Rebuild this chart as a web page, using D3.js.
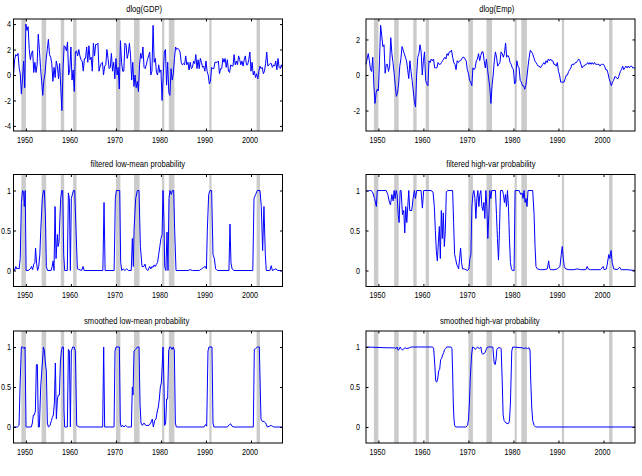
<!DOCTYPE html>
<html>
<head>
<meta charset="utf-8">
<script src="https://cdnjs.cloudflare.com/ajax/libs/d3/7.8.5/d3.min.js"></script>
<style>
body { margin: 0; background: #fff; }
svg text { font-family: "Liberation Sans", Arial, Helvetica, sans-serif; fill: #000; }
</style>
</head>
<body>
<div id="chart"></div>
<script>

// quarterly data start at 1947Q2, plotted at start of quarter
let firstQuarter = 1947.25;

// dlog(GDP) x 100, 1947Q2 .. 2007Q1
let gdpGrowth = [
    0.0, 1.2, 1.6,
    1.5, 1.7, 0.6, 0.1,
    -1.5, -0.3, 1.1, -1.0,
    4.0, 3.5, 3.8, 2.0,
    1.2, 1.7, 1.9, 0.2,
    1.0, 0.2, 0.8, 3.2,
    2.0, 0.6, -0.5, -1.6,
    -0.4, 0.1, 1.2, 2.0,
    2.8, 1.6, 1.4, 0.9,
    -0.5, 0.6, -0.2, 1.1,
    0.7, -0.3, 0.9, -1.0,
    -2.8, 0.5, 2.3, 2.2,
    1.9, 2.6, 0.0, 0.4,
    2.2, -0.4, 0.4, -1.3,
    1.8, 1.9, 1.5, 2.0,
    1.5, 1.2, 1.1, 0.3,
    1.3, 1.3, 2.2, 1.0,
    2.3, 1.2, 1.4, 0.3,
    2.5, 1.5, 2.4, 2.4,
    2.5, 0.3, 0.7, 0.9,
    1.0, 0.0, 0.7, 0.8,
    2.0, 1.3, 0.5, 0.6,
    1.7, 0.3, 1.0, -0.3,
    1.3, 0.0, 0.6, -1.1,
    2.7, 1.0, 0.3, 0.3,
    2.5, 2.4, 1.3, 1.7,
    2.5, 1.5, -0.4, 1.0,
    -0.9, 0.0, -1.0, -0.5,
    -1.3, 0.8, 1.7, 1.3,
    2.2, 0.6, 0.5, 0.8,
    1.2, 1.5, 1.8, 0.0,
    0.3, 3.9, 1.0, 1.3,
    0.2, 0.0, 0.8, 0.2,
    0.4, -2.0, -0.1, 1.8,
    2.0, -0.8, 1.0, -1.4,
    -1.6, 0.5, -0.4, 0.1,
    1.3, 2.2, 2.0, 2.1,
    2.0, 1.8, 1.0, 0.8,
    0.9, 0.8, 1.5, 0.8,
    1.0, 0.4, 1.0, 0.5,
    0.6, 1.1, 0.9, 1.6,
    0.5, 1.2, 0.5, 1.3,
    1.0, 0.6, 0.7, 0.3,
    1.1, 0.3, 0.0, -0.7,
    -0.5, 0.6, 0.5, 0.5,
    1.0, 1.0, 1.0, 1.1,
    0.1, 0.5, 0.5, 1.3,
    1.0, 1.3, 0.6, 1.2,
    0.3, 0.2, 0.8, 0.7,
    0.7, 1.6, 0.8, 1.1,
    0.8, 1.5, 1.2, 0.8,
    1.1, 0.7, 1.2, 1.5,
    0.8, 0.8, 1.2, 1.8,
    0.3, 1.0, 0.0, 0.3,
    -0.2, 0.1, -0.3, 0.3,
    0.7, 0.5, 0.6, 0.1,
    0.3, 0.9, 1.8, 0.7,
    0.8, 0.9, 0.9, 0.6,
    0.8, 0.7, 1.1, 0.4,
    1.3, 0.6, 0.5, 0.8,
    0.5
];

// dlog(Emp) x 100, same quarters
let empGrowth = [
    0.6, 0.9, 1.2,
    0.8, 0.3, 0.2, 1.0,
    -0.6, -1.6, -1.0, -0.8,
    -0.9, 0.8, 2.8, 2.2,
    1.6, 1.7, 0.1, 0.6,
    0.6, 0.2, 0.5, 2.1,
    1.2, 0.7, 0.1, -0.6,
    -1.2, -1.0, -0.5, 0.5,
    0.9, 1.6, 1.4, 1.2,
    1.0, 0.8, 0.3, -0.2,
    0.8, 0.2, -0.3, -0.9,
    -1.5, -1.8, 0.0, 1.0,
    1.2, 1.7, 1.3, 0.0,
    0.8, 1.3, -0.3, -0.5,
    -0.6, 0.8, 0.7, 0.9,
    0.8, 0.9, 0.4, 0.4,
    0.4, 0.7, 0.6, 0.6,
    0.7, 0.8, 0.9, 1.0,
    0.9, 1.2, 1.1, 1.3,
    1.3, 1.4, 1.0, 0.7,
    0.6, 0.3, 0.8, 0.7,
    0.8, 0.8, 0.9, 1.0,
    1.0, 0.9, 0.8, 0.3,
    0.1, -0.3, -0.4, -0.6,
    0.4, 0.3, 0.4, 0.8,
    0.9, 1.2, 0.8, 1.1,
    1.3, 1.3, 0.8, 0.4,
    0.9, 0.3, -0.2, -0.7,
    -1.6, -0.6, 0.0, 0.8,
    1.3, 1.0, 0.5, 0.6,
    0.7, 1.3, 1.2, 1.0,
    1.2, 1.8, 1.0, 1.1,
    1.0, 0.7, 0.6, 0.4,
    0.3, -0.5, -0.4, 0.8,
    0.5, 0.4, -0.3, -0.4,
    -0.6, -0.6, -0.8, -0.6,
    -0.1, 0.5, 1.0, 1.4,
    1.3, 1.2, 1.0, 0.8,
    0.7, 0.6, 0.5, 0.5,
    0.4, 0.5, 0.6, 0.7,
    0.6, 0.8, 0.7, 0.9,
    0.8, 0.9, 0.8, 0.8,
    0.6, 0.6, 0.5, 0.7,
    0.2, 0.0, -0.4, -0.4,
    -0.4, -0.4, -0.2, 0.0,
    0.0, 0.2, 0.3, 0.4,
    0.6, 0.6, 0.6, 0.7,
    0.7, 0.8, 0.9, 0.8,
    0.6, 0.4, 0.5, 0.5,
    0.6, 0.6, 0.7, 0.6,
    0.7, 0.6, 0.7, 0.6,
    0.7, 0.6, 0.6, 0.6,
    0.6, 0.5, 0.6, 0.6,
    0.6, 0.5, 0.3, 0.3,
    0.1, -0.2, -0.4, -0.6,
    -0.4, -0.3, -0.1, -0.1,
    -0.2, -0.2, 0.0, 0.2,
    0.3, 0.5, 0.3, 0.4,
    0.5, 0.4, 0.5, 0.4,
    0.5, 0.5, 0.4, 0.4,
    0.4
];

// regime probabilities, [date, probability]
let filteredLowMean = [
    [1947.25, 0.03], [1947.5, 0.0], [1947.75, 0.05], [1948.0, 0.02], [1948.25, 0.03], [1948.5, 0.02],
    [1948.75, 0.15], [1949.0, 0.85], [1949.25, 1.0], [1949.5, 0.98], [1949.65, 0.8], [1949.85, 1.0],
    [1950.05, 0.0], [1950.5, 0.0], [1951.0, 0.02], [1951.25, 0.05], [1951.5, 0.01], [1951.75, 0.08],
    [1952.0, 0.1], [1952.15, 0.28], [1952.4, 0.08], [1952.6, 0.0], [1952.85, 0.05], [1953.1, 0.2],
    [1953.3, 0.5], [1953.65, 0.9], [1953.9, 1.0], [1954.1, 1.0], [1954.33, 0.7], [1954.55, 0.05],
    [1954.8, 0.0], [1955.6, 0.0], [1955.85, 0.05], [1956.05, 0.12], [1956.25, 0.0], [1956.48, 0.8],
    [1956.7, 0.15], [1957.0, 0.45], [1957.15, 0.3], [1957.35, 0.35], [1957.73, 0.9], [1957.96, 1.0],
    [1958.18, 1.0], [1958.4, 0.2], [1958.62, 0.0], [1959.2, 0.0], [1959.44, 0.97], [1959.66, 0.9],
    [1959.88, 0.0], [1960.1, 0.9], [1960.55, 1.0], [1960.84, 1.0], [1961.14, 0.5], [1961.44, 0.02],
    [1962.4, 0.0], [1962.7, 0.05], [1962.95, 0.0], [1967.1, 0.0], [1967.36, 0.85], [1967.6, 0.0],
    [1969.6, 0.0], [1969.87, 0.9], [1970.1, 1.0], [1970.84, 1.0], [1971.06, 0.1], [1971.3, 0.0],
    [1971.6, 0.02], [1972.0, 0.0], [1972.4, 0.02], [1972.8, 0.0], [1973.4, 0.0], [1973.65, 0.4],
    [1973.87, 0.05], [1974.02, 0.5], [1974.39, 0.9], [1974.76, 1.0], [1975.13, 1.0], [1975.43, 0.3],
    [1975.8, 0.05], [1976.2, 0.05], [1976.46, 0.08], [1976.7, 0.02], [1977.1, 0.0], [1977.5, 0.05],
    [1977.75, 0.02], [1978.0, 0.05], [1978.25, 0.04], [1978.5, 0.07], [1978.75, 0.05], [1979.0, 0.08],
    [1979.25, 0.1], [1979.5, 0.2], [1979.75, 0.3], [1980.0, 0.4], [1980.25, 0.45], [1980.46, 1.0],
    [1980.68, 0.6], [1980.83, 0.05], [1981.1, 0.0], [1981.35, 0.48], [1981.57, 0.0], [1981.79, 0.9],
    [1982.01, 1.0], [1982.3, 0.95], [1982.55, 1.0], [1982.83, 1.0], [1983.05, 0.5], [1983.35, 0.0],
    [1986.0, 0.0], [1986.5, 0.01], [1987.0, 0.0], [1988.5, 0.0], [1989.0, 0.02], [1989.5, 0.04],
    [1989.9, 0.05], [1990.1, 0.02], [1990.3, 0.5], [1990.6, 0.95], [1990.9, 1.0], [1991.26, 1.0],
    [1991.56, 0.2], [1991.86, 0.15], [1992.15, 0.02], [1992.5, 0.0], [1995.1, 0.0], [1995.34, 0.58],
    [1995.55, 0.1], [1995.8, 0.02], [1996.2, 0.0], [2000.4, 0.0], [2000.67, 0.9], [2001.03, 0.95],
    [2001.4, 1.0], [2002.0, 1.0], [2002.29, 0.8], [2002.59, 0.25], [2002.88, 0.8], [2003.18, 0.2],
    [2003.4, 0.0], [2004.2, 0.0], [2004.5, 0.06], [2004.75, 0.0], [2005.5, 0.02], [2006.0, 0.0],
    [2007.0, 0.0]
];

let filteredHighVar = [
    [1947.25, 1.0], [1947.67, 0.99], [1948.04, 1.0], [1948.41, 1.0], [1948.78, 0.97], [1949.15, 0.9],
    [1949.55, 0.8], [1949.75, 1.0], [1950.62, 1.0], [1951.73, 1.0], [1952.1, 0.95], [1952.47, 0.85],
    [1952.69, 0.82], [1952.99, 0.95], [1953.28, 0.87], [1953.5, 1.0], [1953.72, 0.9], [1953.94, 1.0],
    [1954.17, 0.95], [1954.39, 0.7], [1954.61, 0.6], [1954.83, 1.0], [1955.05, 1.0], [1955.35, 0.7],
    [1955.64, 0.75], [1955.86, 0.47], [1956.08, 0.8], [1956.31, 0.6], [1956.53, 0.8], [1956.75, 1.0],
    [1956.97, 0.75], [1957.41, 0.75], [1957.71, 0.9], [1958.0, 1.0], [1958.23, 0.9], [1958.52, 1.0],
    [1959.11, 1.0], [1959.48, 1.0], [1959.77, 0.78], [1960.07, 1.0], [1961.69, 1.0], [1962.14, 0.98],
    [1962.43, 0.8], [1962.65, 0.5], [1962.87, 0.25], [1963.1, 0.12], [1963.32, 0.35], [1963.54, 0.55],
    [1963.76, 0.15], [1963.98, 0.75], [1964.2, 0.4], [1964.42, 0.72], [1964.65, 0.3], [1964.87, 0.5],
    [1965.09, 0.98], [1965.38, 1.0], [1966.49, 1.0], [1966.71, 0.6], [1966.93, 0.2], [1967.15, 0.15],
    [1967.38, 0.08], [1967.6, 0.05], [1967.82, 0.02], [1968.04, 0.15], [1968.26, 0.28], [1968.48, 0.1],
    [1968.7, 0.02], [1969.07, 0.02], [1969.44, 0.01], [1969.81, 0.0], [1970.11, 0.02], [1970.33, 0.15],
    [1970.55, 0.2], [1970.77, 0.8], [1970.99, 0.95], [1971.21, 1.0], [1971.44, 0.9], [1971.66, 0.65],
    [1971.88, 0.9], [1972.1, 1.0], [1972.32, 0.8], [1972.54, 0.95], [1972.76, 1.0], [1972.99, 0.8],
    [1973.21, 0.75], [1973.43, 0.85], [1973.65, 0.65], [1973.87, 1.0], [1974.09, 0.8], [1974.31, 0.4],
    [1974.54, 0.7], [1974.76, 1.0], [1974.98, 0.9], [1975.2, 1.0], [1976.01, 1.0], [1976.23, 0.7],
    [1976.45, 0.4], [1976.68, 0.13], [1976.9, 0.5], [1977.12, 1.0], [1977.56, 1.0], [1977.78, 0.95],
    [1978.0, 0.85], [1978.23, 0.95], [1978.45, 0.8], [1978.67, 1.0], [1978.89, 0.8], [1979.11, 0.4],
    [1979.33, 0.1], [1979.55, 0.02], [1979.77, 0.0], [1980.14, 0.0], [1980.37, 1.0], [1981.25, 1.0],
    [1981.62, 0.95], [1981.92, 0.97], [1982.14, 0.9], [1982.36, 1.0], [1982.58, 0.85], [1982.8, 0.9],
    [1983.02, 0.8], [1983.24, 1.0], [1984.28, 1.0], [1984.58, 0.7], [1984.8, 0.3], [1985.01, 0.05],
    [1985.31, 0.02], [1986.05, 0.01], [1986.79, 0.01], [1987.52, 0.02], [1987.82, 0.12], [1988.04, 0.03],
    [1988.26, 0.01], [1989.0, 0.01], [1989.74, 0.02], [1990.33, 0.05], [1990.62, 0.2], [1990.85, 0.3],
    [1991.07, 0.15], [1991.29, 0.05], [1991.58, 0.02], [1992.32, 0.01], [1993.43, 0.01], [1994.17, 0.02],
    [1994.9, 0.01], [1996.1, 0.01], [1996.38, 0.05], [1996.6, 0.02], [1997.12, 0.01], [1997.86, 0.01],
    [1999.33, 0.01], [1999.92, 0.05], [2000.14, 0.01], [2000.66, 0.02], [2001.18, 0.2], [2001.4, 0.15],
    [2001.69, 0.25], [2001.92, 0.1], [2002.29, 0.02], [2003.03, 0.01], [2003.61, 0.04], [2003.91, 0.01],
    [2005.24, 0.01], [2007.0, 0.0]
];

let smoothedLowMean = [
    [1947.25, 0.0], [1948.11, 0.0], [1948.48, 0.02], [1948.7, 0.5], [1949.0, 1.0], [1949.3, 1.0],
    [1949.59, 0.98], [1949.81, 1.0], [1950.04, 0.0], [1951.2, 0.0], [1951.44, 0.05], [1951.66, 0.15],
    [1951.89, 0.15], [1952.11, 0.2], [1952.33, 0.78], [1952.55, 0.78], [1952.77, 0.0], [1953.0, 0.0],
    [1953.29, 0.5], [1953.66, 0.8], [1953.89, 1.0], [1954.11, 0.95], [1954.33, 0.8], [1954.55, 0.7],
    [1954.77, 0.05], [1955.0, 0.0], [1955.37, 0.02], [1955.66, 0.08], [1955.88, 0.12], [1956.1, 0.15],
    [1956.33, 0.3], [1956.55, 0.8], [1956.77, 0.1], [1957.0, 0.35], [1957.22, 0.4], [1957.44, 0.4],
    [1957.66, 0.8], [1957.88, 0.95], [1958.1, 1.0], [1958.33, 1.0], [1958.47, 0.2], [1958.62, 0.0],
    [1959.21, 0.0], [1959.44, 0.97], [1959.66, 0.95], [1959.88, 0.0], [1960.1, 0.95], [1960.4, 1.0],
    [1960.7, 1.0], [1960.99, 0.95], [1961.29, 0.02], [1961.8, 0.0], [1967.06, 0.0], [1967.28, 1.0],
    [1967.5, 0.0], [1969.58, 0.0], [1969.8, 0.95], [1970.02, 1.0], [1970.76, 1.0], [1970.98, 0.05],
    [1971.2, 0.0], [1971.5, 0.02], [1971.8, 0.0], [1972.17, 0.02], [1972.54, 0.0], [1973.43, 0.0],
    [1973.65, 0.5], [1973.8, 0.4], [1974.02, 0.95], [1974.39, 0.97], [1974.76, 1.0], [1975.13, 1.0],
    [1975.35, 0.3], [1975.57, 0.05], [1975.87, 0.02], [1976.24, 0.05], [1976.61, 0.02], [1977.35, 0.02],
    [1977.72, 0.05], [1978.09, 0.1], [1978.31, 0.0], [1978.61, 0.08], [1978.9, 0.1], [1979.2, 0.2],
    [1979.42, 0.25], [1979.64, 0.35], [1979.87, 0.5], [1980.09, 0.55], [1980.31, 0.8], [1980.46, 1.0],
    [1980.68, 0.5], [1980.83, 0.02], [1981.05, 0.05], [1981.27, 0.35], [1981.49, 0.35], [1981.72, 0.95],
    [1981.94, 1.0], [1982.16, 1.0], [1982.46, 0.97], [1982.75, 1.0], [1982.98, 0.95], [1983.2, 0.05],
    [1983.42, 0.0], [1989.56, 0.0], [1989.93, 0.03], [1990.16, 0.01], [1990.45, 0.95], [1990.67, 1.0],
    [1991.34, 1.0], [1991.56, 0.05], [1991.78, 0.0], [1994.74, 0.0], [1995.19, 0.03], [1995.48, 0.04],
    [1995.78, 0.01], [1996.22, 0.0], [2000.52, 0.0], [2000.74, 0.97], [2001.04, 0.98], [2001.41, 1.0],
    [2001.85, 1.0], [2002.22, 0.1], [2002.52, 0.07], [2002.89, 0.07], [2003.26, 0.05], [2003.63, 0.0],
    [2004.51, 0.02], [2004.74, 0.01], [2005.1, 0.0], [2007.0, 0.0]
];

let smoothedHighVar = [
    [1947.25, 1.0], [1952.1, 0.99], [1953.58, 0.99], [1953.94, 0.98], [1954.17, 1.0], [1954.39, 0.96],
    [1954.61, 0.97], [1954.83, 1.0], [1955.05, 0.98], [1955.35, 0.96], [1955.64, 0.98], [1955.94, 0.99],
    [1956.38, 0.98], [1956.9, 0.99], [1957.27, 1.0], [1962.06, 1.0], [1962.28, 0.98], [1962.5, 0.8],
    [1962.73, 0.58], [1962.95, 0.56], [1963.17, 0.6], [1963.39, 0.7], [1963.61, 0.72], [1963.83, 0.84],
    [1964.06, 0.86], [1964.28, 0.9], [1964.5, 0.93], [1964.72, 0.97], [1964.94, 0.98], [1965.16, 1.0],
    [1966.12, 1.0], [1966.34, 0.98], [1966.49, 0.7], [1966.64, 0.3], [1966.79, 0.1], [1966.93, 0.02],
    [1967.15, 0.0], [1969.44, 0.0], [1969.81, 0.02], [1970.03, 0.1], [1970.25, 0.35], [1970.4, 0.6],
    [1970.55, 0.75], [1970.7, 0.9], [1970.92, 1.0], [1971.29, 0.99], [1971.51, 0.97], [1971.73, 0.98],
    [1972.03, 1.0], [1972.39, 0.98], [1972.76, 1.0], [1972.99, 0.92], [1973.21, 0.91], [1973.5, 0.92],
    [1973.72, 0.93], [1973.94, 0.97], [1974.24, 1.0], [1975.42, 1.0], [1975.57, 0.9], [1975.72, 0.8],
    [1975.94, 0.78], [1976.16, 0.85], [1976.31, 0.97], [1976.6, 0.99], [1977.04, 0.99], [1977.27, 0.98],
    [1977.49, 0.6], [1977.71, 0.15], [1977.93, 0.08], [1978.37, 0.05], [1978.82, 0.04], [1979.11, 0.07],
    [1979.33, 0.3], [1979.63, 0.95], [1979.85, 1.0], [1981.99, 0.99], [1982.36, 0.98], [1982.73, 0.99],
    [1983.1, 0.98], [1983.47, 0.99], [1983.69, 0.96], [1983.83, 0.6], [1984.06, 0.25], [1984.28, 0.08],
    [1984.58, 0.02], [1984.94, 0.0], [2007.0, 0.0]
];

// NBER recessions, peak and trough quarters
let recessionStart = [1949.0, 1953.5, 1957.75, 1960.5, 1970.0, 1974.0, 1980.25, 1981.75, 1990.75, 2001.25];
let recessionEnd = [1950.0, 1954.5, 1958.5, 1961.25, 1971.0, 1975.25, 1980.75, 1983.0, 1991.25, 2002.0];

let yearTicks = [1950, 1960, 1970, 1980, 1990, 2000];
let dateRange = [1947.25, 2007.0];


let svgWidth = 642;
let svgHeight = 476;

let colRanges = [[13.5, 282.5], [366, 635]];
let rowTops = [19, 174.5, 331];
let boxHeight = 112;
let labelGap = [2.5, 6];

// the original font is a narrow Helvetica; squeeze the installed one
let squeeze = 0.8;

let svg = d3.select("#chart")
    .append("svg")
    .attr("width", svgWidth)
    .attr("height", svgHeight);

function quarterly(values) {
    return values.map((v, i) => [firstQuarter + i * 0.25, v]);
}

function narrow(sel) {
    sel.each(function() {
        let w = this.getComputedTextLength();
        d3.select(this)
            .attr("textLength", w * squeeze)
            .attr("lengthAdjust", "spacingAndGlyphs");
    });
}

let panels = [
    {title: "dlog(GDP)", data: quarterly(gdpGrowth), col: 0, row: 0, yDomain: [-4.4, 4.4], yTicks: [-4, -2, 0, 2, 4]},
    {title: "dlog(Emp)", data: quarterly(empGrowth), col: 1, row: 0, yDomain: [-3.15, 3.15], yTicks: [-2, 0, 2]},
    {title: "filtered low-mean probability", data: filteredLowMean, col: 0, row: 1, yDomain: [-0.2, 1.2], yTicks: [0, 0.5, 1]},
    {title: "filtered high-var probability", data: filteredHighVar, col: 1, row: 1, yDomain: [-0.2, 1.2], yTicks: [0, 0.5, 1]},
    {title: "smoothed low-mean probability", data: smoothedLowMean, col: 0, row: 2, yDomain: [-0.2, 1.2], yTicks: [0, 0.5, 1]},
    {title: "smoothed high-var probability", data: smoothedHighVar, col: 1, row: 2, yDomain: [-0.2, 1.2], yTicks: [0, 0.5, 1]}
];

function drawPanel(p) {
    let top = rowTops[p.row];
    let bottom = top + boxHeight;
    let [left, right] = colRanges[p.col];

    let x = d3.scaleLinear().domain(dateRange).range([left, right]);
    let y = d3.scaleLinear().domain(p.yDomain).range([bottom, top]);

    let g = svg.append("g");

    // recession shading
    g.selectAll(".band")
        .data(d3.zip(recessionStart, recessionEnd))
        .enter()
        .append("rect")
        .attr("x", d => x(d[0]))
        .attr("width", d => x(d[1]) - x(d[0]))
        .attr("y", top)
        .attr("height", boxHeight)
        .attr("fill", "#cbcbcb");

    let line = d3.line()
        .x(d => x(d[0]))
        .y(d => y(d[1]));

    g.append("path")
        .datum(p.data)
        .attr("d", line)
        .attr("fill", "none")
        .attr("stroke", "#0000ff")
        .attr("stroke-width", 1)
        .attr("stroke-linejoin", "round");

    let bottomAxis = g.append("g")
        .attr("transform", `translate(0, ${bottom})`)
        .call(d3.axisBottom(x).tickValues(yearTicks).tickSize(-2.5).tickPadding(5.6).tickFormat(d3.format("d")));

    g.append("g")
        .attr("transform", `translate(0, ${top})`)
        .call(d3.axisTop(x).tickValues(yearTicks).tickSize(-2.5).tickFormat(""));

    let leftAxis = g.append("g")
        .attr("transform", `translate(${left}, 0)`)
        .call(d3.axisLeft(y).tickValues(p.yTicks).tickSize(-2.5).tickPadding(labelGap[p.col]).tickFormat(d => String(d)));

    g.append("g")
        .attr("transform", `translate(${right}, 0)`)
        .call(d3.axisRight(y).tickValues(p.yTicks).tickSize(-2.5).tickFormat(""));

    g.selectAll(".domain").remove();
    g.selectAll(".tick line").attr("stroke", "#000");

    bottomAxis.selectAll("text")
        .attr("font-size", 9)
        .attr("font-family", null)
        .attr("dx", -1.5)
        .call(narrow);

    leftAxis.selectAll("text")
        .attr("font-size", 9)
        .attr("font-family", null)
        .call(narrow);

    // frame
    g.append("rect")
        .attr("x", left)
        .attr("y", top)
        .attr("width", right - left)
        .attr("height", boxHeight)
        .attr("fill", "none")
        .attr("stroke", "#000")
        .attr("stroke-width", 1);

    let title = g.append("text")
        .attr("text-anchor", "middle")
        .attr("font-size", 9.5)
        .attr("y", top - 7.5)
        .text(p.title)
        .call(narrow);

    let len = title.node().getComputedTextLength() * squeeze;
    title.attr("x", (left + right) / 2 - 0.135 * len);
}

panels.forEach(drawPanel);

</script>
</body>
</html>
